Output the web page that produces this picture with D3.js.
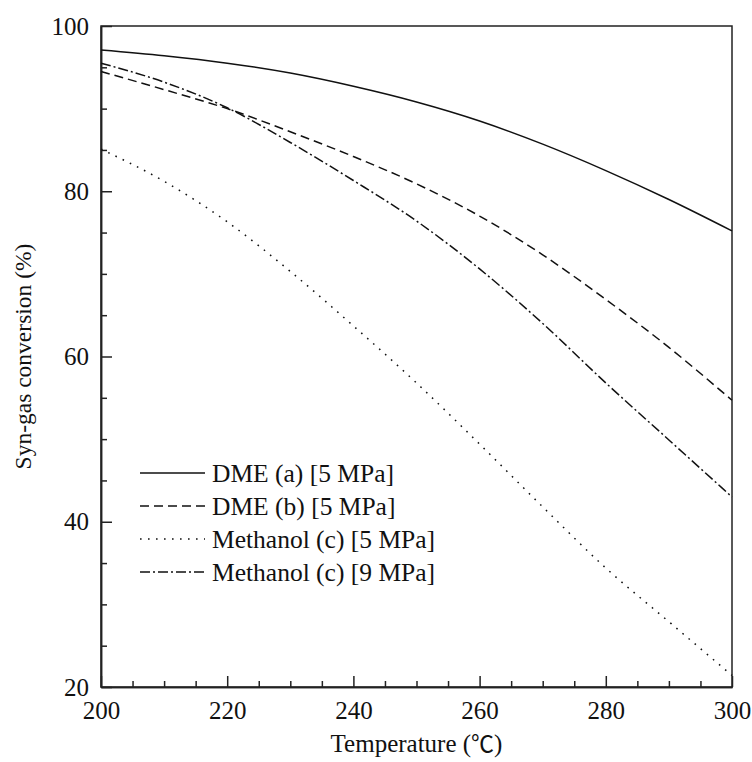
<!DOCTYPE html>
<html><head><meta charset="utf-8">
<script src="https://cdn.jsdelivr.net/npm/d3@7"></script>
<style>
body{margin:0;background:#fff;}
text{font-family:"Liberation Serif","Times New Roman",serif;fill:#111;}
</style></head>
<body><svg id="c" width="752" height="762"></svg>
<script>
const temps = [200,210,220,230,240,250,260,270,280,290,300];
const dmeA = [97.1,96.4,95.5,94.3,92.7,90.8,88.5,85.7,82.5,79.0,75.2];
const dmeB = [94.5,92.3,90.0,87.2,84.2,80.9,77.0,72.3,66.9,61.1,54.7];
const meoh5 = [85.1,81.2,76.3,70.3,63.7,56.8,49.4,41.8,34.4,27.9,21.4];
const meoh9 = [95.5,93.2,90.1,85.9,81.3,76.4,70.6,64.0,56.8,49.9,43.0];
const seriesNames = ["DME (a) [5 MPa]","DME (b) [5 MPa]","Methanol (c) [5 MPa]","Methanol (c) [9 MPa]"];
const dashes = [null,"9,5","1.6,6.4","10,3,2,3"];
const xTicks = [200,220,240,260,280,300];
const yTicks = [20,40,60,80,100];

const svg = d3.select("#c");
const L=101,R=732,T=26,B=687;
const x = d3.scaleLinear().domain([200,300]).range([L,R]);
const y = d3.scaleLinear().domain([20,100]).range([B,T]);

svg.append("rect").attr("x",L).attr("y",T).attr("width",R-L).attr("height",B-T)
  .attr("fill","none").attr("stroke","#222").attr("stroke-width",1.5);

const xMinor = d3.range(200,301,5).filter(v=>v%20!==0);
const yMinor = d3.range(20,101,5).filter(v=>v%20!==0);
const gx = svg.append("g").attr("transform",`translate(0,${B})`)
  .call(d3.axisBottom(x).tickValues(xTicks).tickSizeInner(-11).tickSizeOuter(0).tickPadding(16).tickFormat(d3.format("d")));
svg.append("g").attr("transform",`translate(0,${B})`)
  .call(d3.axisBottom(x).tickValues(xMinor).tickSizeInner(-6).tickSizeOuter(0).tickFormat(""));
const gy = svg.append("g").attr("transform",`translate(${L},0)`)
  .call(d3.axisLeft(y).tickValues(yTicks).tickSizeInner(-11).tickSizeOuter(0).tickPadding(12).tickFormat(d3.format("d")));
svg.append("g").attr("transform",`translate(${L},0)`)
  .call(d3.axisLeft(y).tickValues(yMinor).tickSizeInner(-6).tickSizeOuter(0).tickFormat(""));
svg.selectAll(".domain").attr("stroke","#222").attr("stroke-width",1.5);
svg.selectAll(".tick line").attr("stroke","#222").attr("stroke-width",1.5);
svg.selectAll(".tick text").attr("font-family","Liberation Serif").attr("font-size",25).attr("fill","#111");
gx.selectAll(".tick text").attr("dy","0.71em").attr("y",14);

const data = [dmeA,dmeB,meoh5,meoh9];
const line = d3.line().x((d,i)=>x(temps[i])).y(d=>y(d)).curve(d3.curveMonotoneX);
data.forEach((s,k)=>{
  svg.append("path").attr("d",line(s)).attr("fill","none").attr("stroke","#111")
    .attr("stroke-width",1.5).attr("stroke-dasharray",dashes[k]);
});

const lg = svg.append("g");
seriesNames.forEach((n,k)=>{
  const yy = 473 + k*33;
  lg.append("line").attr("x1",140).attr("x2",205).attr("y1",yy).attr("y2",yy)
    .attr("stroke","#111").attr("stroke-width",1.5).attr("stroke-dasharray",dashes[k]);
  lg.append("text").attr("x",212).attr("y",yy).attr("dy","0.35em").attr("font-size",25.5).text(n);
});

const xt = svg.append("text").attr("x",(L+R)/2).attr("y",752).attr("text-anchor","middle").attr("font-size",25);
xt.append("tspan").text("Temperature (");
xt.append("tspan").attr("font-family","Noto Sans CJK SC").attr("font-size",23).text("℃");
xt.append("tspan").text(")");
svg.append("text").attr("transform",`translate(31,${(T+B)/2}) rotate(-90)`).attr("text-anchor","middle")
  .attr("font-size",23.5).text("Syn-gas conversion (%)");
</script></body></html>
